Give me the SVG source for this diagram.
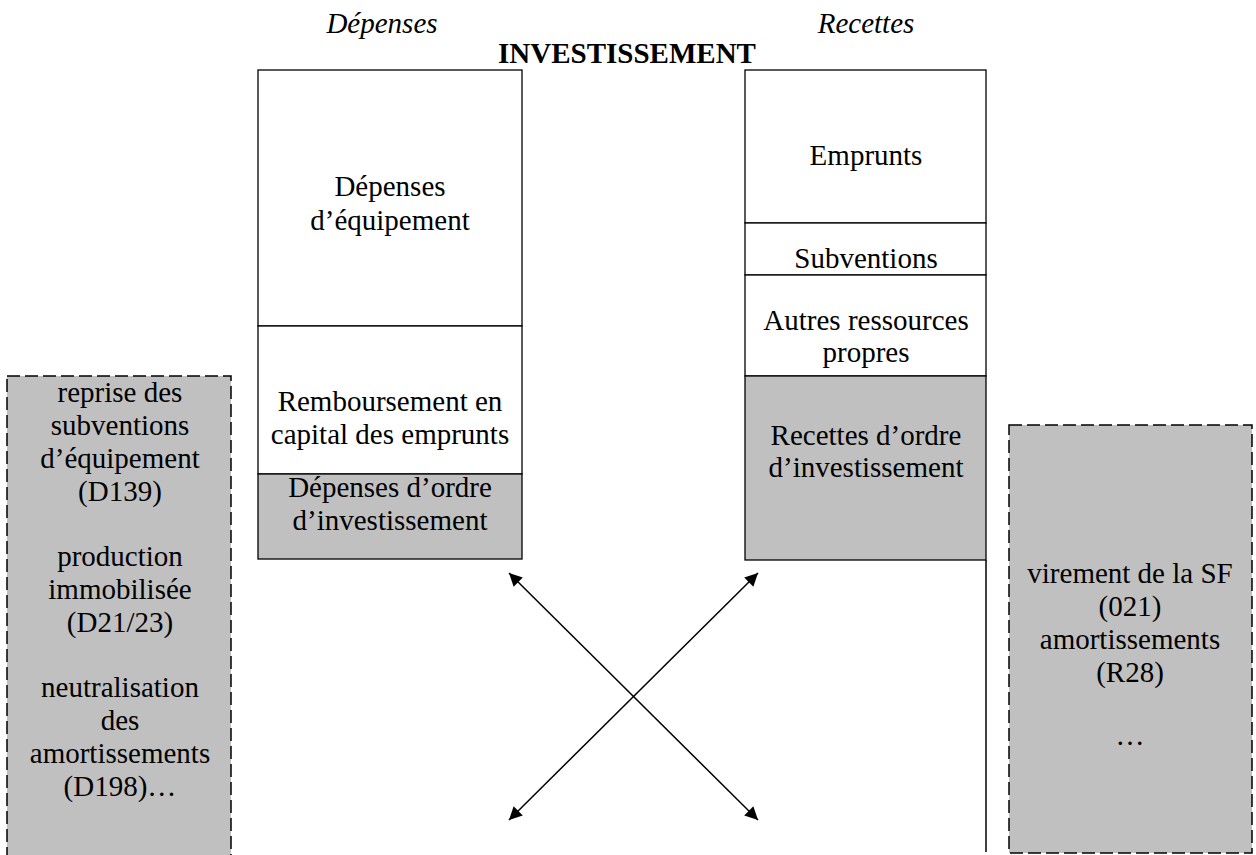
<svg xmlns="http://www.w3.org/2000/svg" width="1256" height="855" viewBox="0 0 1256 855">
<defs>
<style>
text{font-family:"Liberation Serif","Times New Roman",serif;font-size:29px;fill:#000;text-anchor:middle}
.it{font-style:italic}
.b{font-weight:bold}
.box{fill:#fff;stroke:#000;stroke-width:1.3}
.gray{fill:#c0c0c0;stroke:#000;stroke-width:1.3}
.dash{fill:#c0c0c0;stroke:#000;stroke-width:1.5;stroke-dasharray:13,5}
.ln{stroke:#000;stroke-width:1.5;fill:none}
</style>
<marker id="ah" viewBox="0 0 10 10" refX="10" refY="5" markerWidth="14" markerHeight="13" markerUnits="userSpaceOnUse" orient="auto-start-reverse"><path d="M0,0 L10,5 L0,10 z" fill="#000"/></marker>
</defs>
<rect width="1256" height="855" fill="#fff"/>
<g id="titles">
<text class="it" x="382" y="33">Dépenses</text>
<text class="it" x="866" y="33">Recettes</text>
<text class="b" x="627" y="63">INVESTISSEMENT</text>
</g>
<g id="dep-equipement">
<rect class="box" x="258" y="70" width="264" height="256"/>
<text x="390" y="196">Dépenses</text>
<text x="390" y="230">d’équipement</text>
</g>
<g id="remboursement">
<rect class="box" x="258" y="326" width="264" height="148"/>
<text x="390" y="411">Remboursement en</text>
<text x="390" y="444">capital des emprunts</text>
</g>
<g id="dep-ordre">
<rect class="gray" x="258" y="474" width="264" height="85"/>
<text x="390" y="497">Dépenses d’ordre</text>
<text x="390" y="530">d’investissement</text>
</g>
<g id="emprunts">
<rect class="box" x="745" y="70" width="241" height="153"/>
<text x="866" y="165">Emprunts</text>
</g>
<g id="subventions">
<rect class="box" x="745" y="223" width="241" height="52"/>
<text x="866" y="268">Subventions</text>
</g>
<g id="autres">
<rect class="box" x="745" y="275" width="241" height="101"/>
<text x="866" y="330">Autres ressources</text>
<text x="866" y="362">propres</text>
</g>
<g id="rec-ordre">
<rect class="gray" x="745" y="376" width="241" height="184"/>
<text x="866" y="445">Recettes d’ordre</text>
<text x="866" y="477">d’investissement</text>
</g>
<g id="left-detail">
<rect class="dash" x="7" y="376" width="224" height="486"/>
<text x="120" y="402">reprise des</text>
<text x="120" y="435">subventions</text>
<text x="120" y="468">d’équipement</text>
<text x="120" y="501">(D139)</text>
<text x="120" y="566">production</text>
<text x="120" y="599">immobilisée</text>
<text x="120" y="632">(D21/23)</text>
<text x="120" y="697">neutralisation</text>
<text x="120" y="730">des</text>
<text x="120" y="763">amortissements</text>
<text x="120" y="796">(D198)…</text>
</g>
<g id="right-detail">
<rect class="dash" x="1009" y="425" width="243" height="428"/>
<text x="1130" y="583">virement de la SF</text>
<text x="1130" y="616">(021)</text>
<text x="1130" y="649">amortissements</text>
<text x="1130" y="682">(R28)</text>
<text x="1130" y="745">…</text>
</g>
<g id="connectors">
<line class="ln" x1="986" y1="560" x2="986" y2="852"/>
<line class="ln" x1="509" y1="573" x2="758" y2="820" marker-start="url(#ah)" marker-end="url(#ah)"/>
<line class="ln" x1="758" y1="573" x2="509" y2="820" marker-start="url(#ah)" marker-end="url(#ah)"/>
</g>
</svg>
